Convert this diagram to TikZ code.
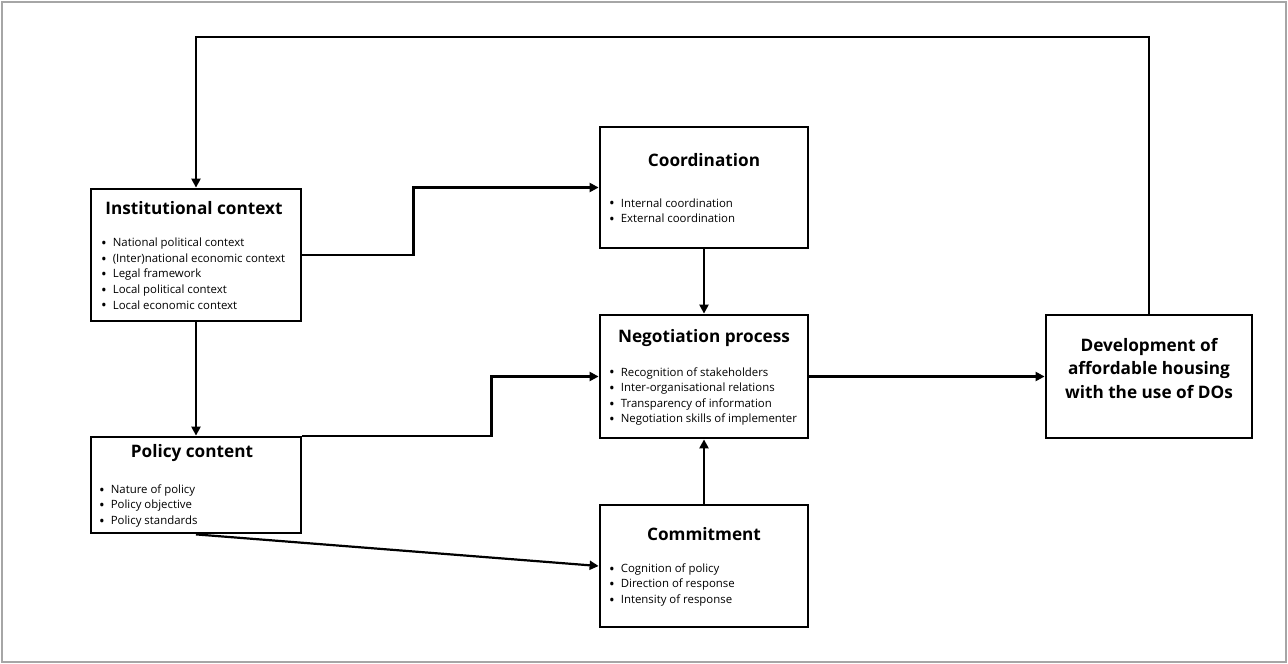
\documentclass[tikz,border=0pt]{standalone}
\usepackage{fontspec}
\setmainfont{Open Sans}
\usepackage{tikz}
\usetikzlibrary{arrows.meta}

\newcommand{\itemdot}{\raisebox{-1.8pt}{\fontsize{15}{15}\selectfont\textbullet}\hspace{6pt}}

\begin{document}
\begin{tikzpicture}[x=1pt,y=-1pt,
  box/.style={draw,line width=2.8pt,inner sep=0pt},
  title/.style={font=\bfseries\fontsize{17.2}{23.5}\selectfont,align=center,inner sep=0pt},
  items/.style={font=\fontsize{11.4}{15.6}\selectfont,align=left,anchor=west,inner sep=0pt},
  conn/.style={line width=2.2pt,-{Triangle[length=9pt,width=9pt]}}]

\useasboundingbox (0,0) rectangle (1288,664);
\draw[gray!70,line width=1.5pt] (2,2) rectangle (1286,662);

% boxes
\node [box,minimum width=210pt,minimum height=132pt] (inst) at (196,255) {};
\node [box,minimum width=210pt,minimum height=96pt] (pol) at (196,485) {};
\node [box,minimum width=208pt,minimum height=121pt] (coord) at (704,187.5) {};
\node [box,minimum width=208pt,minimum height=123pt] (nego) at (704,376.5) {};
\node [box,minimum width=208pt,minimum height=122pt] (comm) at (704,566) {};
\node [box,minimum width=206pt,minimum height=123pt] (dev) at (1149,376.5) {};

% titles
\node [title] (instT) at (194,208) {Institutional context};
\node [title] (polT) at (192,453) {Policy content};
\node [title] (coordT) at (704,160) {Coordination};
\node [title] (negoT) at (704,338) {Negotiation process};
\node [title] (commT) at (704,534) {Commitment};
\node [title] (devT) at (1149,368) {Development of\\affordable housing\\with the use of DOs};

% lists
\node [items] (instL) at (101,274.5) {\itemdot National political context\\
  \itemdot (Inter)national economic context\\
  \itemdot Legal framework\\
  \itemdot Local political context\\
  \itemdot Local economic context};
\node [items] (polL) at (99,506) {\itemdot Nature of policy\\
  \itemdot Policy objective\\
  \itemdot Policy standards};
\node [items] (coordL) at (609,211.5) {\itemdot Internal coordination\\
  \itemdot External coordination};
\node [items] (negoL) at (609,396.5) {\itemdot Recognition of stakeholders\\
  \itemdot Inter-organisational relations\\
  \itemdot Transparency of information\\
  \itemdot Negotiation skills of implementer};
\node [items] (commL) at (609,585) {\itemdot Cognition of policy\\
  \itemdot Direction of response\\
  \itemdot Intensity of response};

% connectors
\draw [conn] (dev.north) -- ++(0,-277) -| (inst.north);
\draw [conn] (inst.east) -- ++(111,0) |- (coord.west);
\draw [conn] (inst.south) -- (pol.north);
\draw [conn] (coord.south) -- (nego.north);
\draw [conn] (pol.north east) -- ++(189,0) |- (nego.west);
\draw [conn] (pol.south) -- (comm.west);
\draw [conn] (comm.north) -- (nego.south);
\draw [conn] (nego.east) -- (dev.west);

\end{tikzpicture}
\end{document}
